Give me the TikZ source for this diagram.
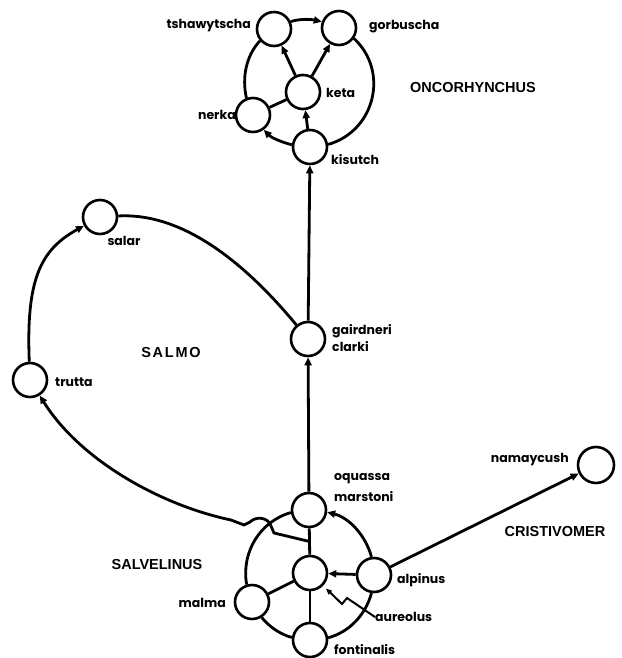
\documentclass[tikz,border=0pt]{standalone}
\usepackage{fontspec}
\setmainfont{Poppins}
\newfontfamily\capfont{Liberation Sans}
\newfontfamily\capfontsp{Liberation Sans}[LetterSpace=12]
\usetikzlibrary{arrows.meta,calc}
\begin{document}
\begin{tikzpicture}[x=1pt,y=1pt,
  sp/.style={circle,draw,line width=2.6pt,fill=white,minimum size=34pt,inner sep=0pt},
  lab/.style={font=\bfseries\fontsize{12.5}{13}\selectfont,inner sep=0pt},
  genus/.style={font=\capfont\bfseries\fontsize{14.5}{15}\selectfont,inner sep=0pt},
  con/.style={line width=2.8pt},
  arr/.style={con,-{Triangle[length=8pt,width=7pt]}},
]
\useasboundingbox (0,0) rectangle (621,-658);

% ---------- Oncorhynchus ----------
\node[sp] (tsh) at (274,-29) {};
\node[sp] (gor) at (339,-28) {};
\node[sp] (keta) at (303,-92) {};
\node[sp] (nerka) at (253,-115) {};
\node[sp] (kis) at (310,-147) {};

% ---------- Salmo ----------
\node[sp] (gai) at (308,-339) {};
\node[sp] (salar) at (100,-217) {};
\node[sp] (trutta) at (30,-380) {};

% ---------- Salvelinus ----------
\node[sp] (oq) at (309,-510) {};
\node[sp] (aur) at (310,-573) {};
\node[sp] (alp) at (374,-575) {};
\node[sp] (malma) at (252,-602) {};
\node[sp] (font) at (310,-640) {};

% ---------- Cristivomer ----------
\node[sp,minimum size=36pt] (nam) at (596,-465) {};

% ---------- labels ----------
\node[lab,anchor=east] (tshl) at (251,-26) {tshawytscha};
\node[lab,anchor=west] (gorl) at (369,-27) {gorbuscha};
\node[lab,anchor=west] (ketal) at (326,-93) {keta};
\node[lab,anchor=east] (nerkal) at (236,-115) {nerka};
\node[lab,anchor=west] (kisl) at (331,-160) {kisutch};
\node[genus] (onc) at (473,-88) {ONCORHYNCHUS};

\node[lab] (salarl) at (124,-241) {salar};
\node[lab,anchor=west] (truttal) at (55,-382) {trutta};
\node[font=\capfontsp\bfseries\fontsize{14.5}{15}\selectfont,inner sep=0pt] (salmo) at (171,-353) {SALMO};
\node[lab,anchor=west] (gail) at (332,-331) {gairdneri};
\node[lab,anchor=west] (clal) at (332,-347) {clarki};

\node[lab,anchor=west] (oql) at (334,-479) {oquassa};
\node[lab,anchor=west] (marl) at (334,-497) {marstoni};
\node[lab,anchor=west] (alpl) at (397,-580) {alpinus};
\node[lab,anchor=west] (aurl) at (375,-617) {aureolus};
\node[lab,anchor=west] (fontl) at (334,-650) {fontinalis};
\node[lab,anchor=east] (malmal) at (226,-603) {malma};
\node[genus] (salv) at (157,-565) {SALVELINUS};

\node[lab,anchor=east] (naml) at (569,-460) {namaycush};
\node[genus] (cri) at (555,-532) {CRISTIVOMER};

% ---------- Oncorhynchus ring ----------
\draw[arr] (tsh.24) to[out=17,in=167,looseness=0.87] (gor.160);
\draw[con] (gor.-35) to[out=-43,in=16,looseness=1.14] (kis.8);
\draw[arr] (kis.173) to[out=166,in=-46,looseness=0.87] (nerka.-54);
\draw[con] (nerka.111) to[out=103,in=227,looseness=0.9] (tsh.220);
\draw[arr] (keta) -- (tsh);
\draw[arr] (keta) -- (gor);
\draw[arr] (kis) -- (keta);
\draw[con] (keta) -- (nerka);

% ---------- Salvelinus ring ----------
\draw[arr] (alp.98) to[out=105,in=-14,looseness=0.91] (oq.353);
\draw[con] (oq.188) to[out=196,in=100,looseness=0.98] (malma.107);
\draw[con] (malma.302) to[out=310,in=165,looseness=0.87] (font.172);
\draw[con] (font.7) to[out=15,in=255,looseness=0.91] (alp.262);
\draw[arr] (alp) -- (aur);
\draw[con] (oq) -- (aur);
\draw[con] (aur) -- (font);
\draw[con] (aur) -- (malma);
\draw[con,line width=2pt,-{Triangle[length=6pt,width=5pt]},shorten >=4pt]
  (aurl.west) -- (347,-598) -- (342,-604) -- (aur);

% ---------- between genera ----------
\draw[arr] (oq) -- (gai);
\draw[arr] (gai) -- (kis);
\draw[arr] (alp) -- (nam);
\draw[con] (salar) .. controls (190,-212) and (255,-275) .. (gai);
\draw[arr] (trutta) .. controls (26,-280) and (40,-250) .. (salar);
\coordinate (j1) at ($(oq)!0.5!(aur)$);
\draw[arr,line join=round] (j1) -- (274,-533) -- (271,-526)
  .. controls (268,-517) and (256,-516) .. (250,-522) -- (244,-525) -- (231,-520)
  .. controls (160,-505) and (80,-460) .. (trutta);
\end{tikzpicture}
\end{document}
